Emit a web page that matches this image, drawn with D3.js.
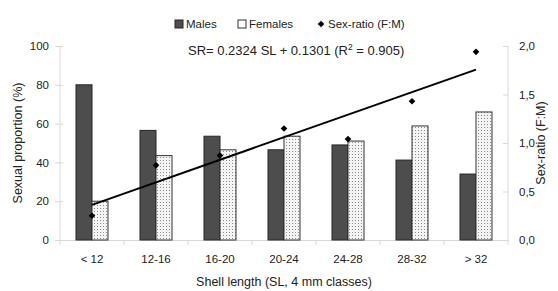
<!DOCTYPE html>
<html><head><meta charset="utf-8">
<script src="https://cdn.jsdelivr.net/npm/d3@7"></script>
<style>
body{margin:0;background:#fff;}
text{font-family:"Liberation Sans",Arial,sans-serif;fill:#222;}
</style></head>
<body><svg id="c" width="558" height="291"></svg>
<script>
const categories = ["< 12","12-16","16-20","20-24","24-28","28-32","> 32"];
const males = [80, 56.5, 53.5, 46.5, 49, 41.2, 34];
const females = [20, 43.5, 46.5, 53.5, 51, 58.8, 66];
const sexRatio = [0.25, 0.77, 0.87, 1.15, 1.04, 1.43, 1.94];
const leftTicks = [0,20,40,60,80,100];
const rightTicks = [0,0.5,1.0,1.5,2.0];
const slope = 0.2324, intercept = 0.1301;

const svg = d3.select("#c");
const L = 60, R = 508, T = 46, B = 240;
const x = d3.scaleBand().domain(categories).range([L,R]).paddingInner(0.5).paddingOuter(0.25);
const xb = d3.scaleBand().domain(["m","f"]).range([0,x.bandwidth()]);
const yL = d3.scaleLinear().domain([0,100]).range([B,T]);
const yR = d3.scaleLinear().domain([0,2]).range([B,T]);

const defs = svg.append("defs");
const pat = defs.append("pattern").attr("id","dots").attr("width",3).attr("height",3).attr("patternUnits","userSpaceOnUse");
pat.append("rect").attr("width",3).attr("height",3).attr("fill","#f4f4f4");
pat.append("rect").attr("x",1).attr("y",1).attr("width",1).attr("height",1).attr("fill","#8a8a8a");

// axes
const gx = svg.append("g").attr("transform",`translate(0,${B})`)
  .call(d3.axisBottom(x).tickSize(0).tickPadding(15));
gx.select(".domain").attr("stroke","#d8d8d8");
gx.selectAll("text").attr("font-size",11.5);
const bounds = d3.range(categories.length+1).map(i=>L + i*(R-L)/categories.length);
svg.append("g").selectAll("line").data(bounds).join("line")
  .attr("x1",d=>d).attr("x2",d=>d).attr("y1",B).attr("y2",B+5).attr("stroke","#d8d8d8");

const gl = svg.append("g").attr("transform",`translate(${L},0)`)
  .call(d3.axisLeft(yL).tickValues(leftTicks).tickSize(5).tickPadding(6));
gl.select(".domain").attr("stroke","#d8d8d8").attr("d",`M0,${B}V${T}`);
gl.selectAll(".tick line").attr("stroke","#d8d8d8").attr("x2",3).attr("x1",-5);
gl.selectAll("text").attr("font-size",11.5);

const fmt = d=>d3.format(".1f")(d).replace(".",",");
const gr = svg.append("g").attr("transform",`translate(${R},0)`)
  .call(d3.axisRight(yR).tickValues(rightTicks).tickFormat(fmt).tickSize(5).tickPadding(6));
gr.select(".domain").attr("stroke","#d8d8d8").attr("d",`M0,${B}V${T}`);
gr.selectAll(".tick line").attr("stroke","#d8d8d8").attr("x1",-5).attr("x2",0);
gr.selectAll("text").attr("font-size",11.5);

// bars
const g = svg.append("g");
g.selectAll(".m").data(males).join("rect")
  .attr("x",(d,i)=>x(categories[i])+xb("m")).attr("width",xb.bandwidth())
  .attr("y",d=>yL(d)).attr("height",d=>B-yL(d))
  .attr("fill","#4d4d4d").attr("stroke","#262626").attr("stroke-width",1);
g.selectAll(".f").data(females).join("rect")
  .attr("x",(d,i)=>x(categories[i])+xb("f")).attr("width",xb.bandwidth())
  .attr("y",d=>yL(d)).attr("height",d=>B-yL(d))
  .attr("fill","url(#dots)").attr("stroke","#333").attr("stroke-width",1);

// regression line
const cx = i=>x(categories[i])+x.bandwidth()/2;
svg.append("line")
  .attr("x1",cx(0)).attr("y1",yR(slope*1+intercept))
  .attr("x2",cx(6)).attr("y2",yR(slope*7+intercept))
  .attr("stroke","#000").attr("stroke-width",2);

// sex ratio points
const diamond = d3.symbol().type(d3.symbolSquare).size(22);
svg.append("g").selectAll("path").data(sexRatio).join("path")
  .attr("d",diamond).attr("transform",(d,i)=>`translate(${cx(i)},${yR(d)}) rotate(45)`).attr("fill","#000");

// equation
const eq = svg.append("text").attr("x",188).attr("y",55).attr("font-size",13);
eq.append("tspan").text("SR= 0.2324 SL + 0.1301 (R");
eq.append("tspan").attr("dy",-5).attr("font-size",8.5).text("2");
eq.append("tspan").attr("dy",5).text(" = 0.905)");

// legend
const ly = 24;
svg.append("rect").attr("x",175).attr("y",ly-4).attr("width",8).attr("height",8).attr("fill","#4d4d4d").attr("stroke","#262626");
svg.append("text").attr("x",186).attr("y",ly+4).attr("font-size",11.5).text("Males");
svg.append("rect").attr("x",238).attr("y",ly-4).attr("width",8).attr("height",8).attr("fill","#fff").attr("stroke","#333");
svg.append("text").attr("x",249).attr("y",ly+4).attr("font-size",11.5).text("Females");
svg.append("path").attr("d",diamond).attr("transform",`translate(321,${ly}) rotate(45)`).attr("fill","#000");
svg.append("text").attr("x",328).attr("y",ly+4).attr("font-size",11.5).text("Sex-ratio (F:M)");

// axis titles
svg.append("text").attr("transform",`translate(22,143) rotate(-90)`).attr("text-anchor","middle").attr("font-size",12.5).text("Sexual proportion (%)");
svg.append("text").attr("transform",`translate(545,143) rotate(-90)`).attr("text-anchor","middle").attr("font-size",12.5).text("Sex-ratio (F:M)");
svg.append("text").attr("x",284).attr("y",286).attr("text-anchor","middle").attr("font-size",12.5).text("Shell length (SL, 4 mm classes)");
</script></body></html>
